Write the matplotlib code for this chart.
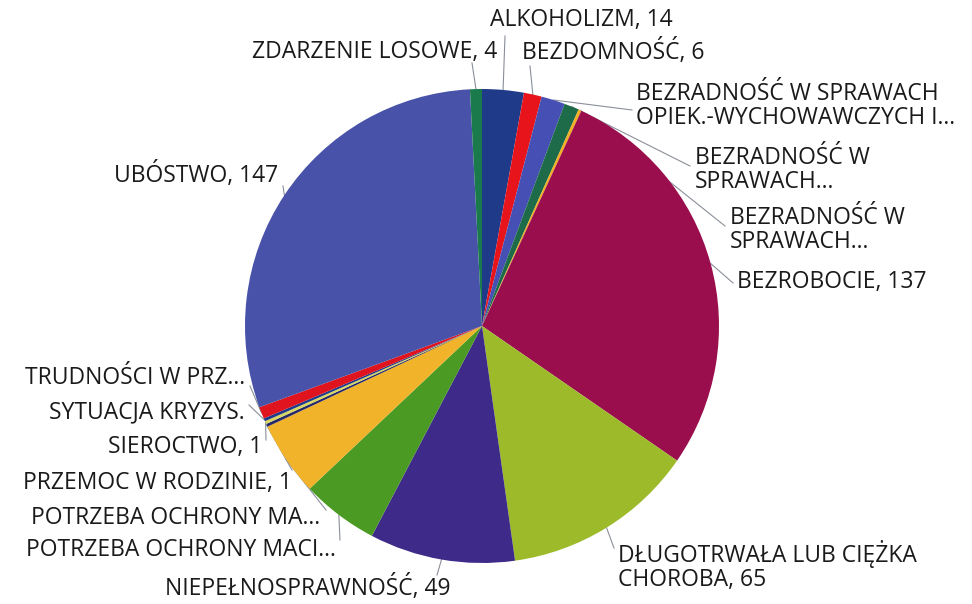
import matplotlib
matplotlib.use("Agg")
import matplotlib.pyplot as plt
import numpy as np

# ── data ────────────────────────────────────────────────────────────────────
categories = [
    "ALKOHOLIZM", "BEZDOMNOŚĆ",
    "BEZRADNOŚĆ W SPRAWACH OPIEK.-WYCHOWAWCZYCH I...",
    "BEZRADNOŚĆ W SPRAWACH... (2)", "BEZRADNOŚĆ W SPRAWACH... (3)",
    "BEZROBOCIE", "DŁUGOTRWAŁA LUB CIĘŻKA CHOROBA", "NIEPEŁNOSPRAWNOŚĆ",
    "POTRZEBA OCHRONY MACI...", "POTRZEBA OCHRONY MA...",
    "PRZEMOC W RODZINIE", "SIEROCTWO", "SYTUACJA KRYZYS.",
    "TRUDNOŚCI W PRZ...", "UBÓSTWO", "ZDARZENIE LOSOWE",
]
values = [14, 6, 8, 5, 1, 137, 65, 49, 26, 25, 1, 1, 1, 4, 147, 4]
labels = [
    "ALKOHOLIZM, 14", "BEZDOMNOŚĆ, 6",
    "BEZRADNOŚĆ W SPRAWACH\nOPIEK.-WYCHOWAWCZYCH I...",
    "BEZRADNOŚĆ W\nSPRAWACH...", "BEZRADNOŚĆ W\nSPRAWACH...",
    "BEZROBOCIE, 137", "DŁUGOTRWAŁA LUB CIĘŻKA\nCHOROBA, 65",
    "NIEPEŁNOSPRAWNOŚĆ, 49", "POTRZEBA OCHRONY MACI...",
    "POTRZEBA OCHRONY MA...", "PRZEMOC W RODZINIE, 1", "SIEROCTWO, 1",
    "SYTUACJA KRYZYS.", "TRUDNOŚCI W PRZ...", "UBÓSTWO, 147",
    "ZDARZENIE LOSOWE, 4",
]
colors = [
    "#203a8a", "#e8141c", "#4650b4", "#1d6b48", "#f0b020", "#9a0e4e",
    "#9cba2a", "#3e2a88", "#4a9a24", "#f0b32a", "#26286a", "#d8d860",
    "#1f3a8a", "#e0141e", "#4752a8", "#1a7a4c",
]

# label layout in image pixels (y down): text x, text y, align, leader anchor
label_pos = [
    (490, 20, "left", 505, 36), (522, 52, "left", 530, 66),
    (636, 106, "left", 632, 110), (695, 170, "left", 690, 166),
    (730, 230, "left", 725, 226), (737, 282, "left", 733, 283),
    (618, 566, "left", 614, 548), (165, 588, "left", 437, 575),
    (336, 550, "right", 340, 540), (320, 518, "right", 326, 510),
    (292, 483, "right", 292, 470), (262, 447, "right", 266, 440),
    (245, 412, "right", 249, 405), (245, 378, "right", 250, 386),
    (278, 175, "right", 283, 186), (497, 52, "right", 472, 63),
]

W, H = 972, 604
CX, CY, R = 482, 326, 237

fig = plt.figure(figsize=(9.72, 6.04), dpi=100)
ax = fig.add_axes([0, 0, 1, 1])

wedges, _ = ax.pie(values, colors=colors, startangle=90, counterclock=False,
                   center=(CX, H - CY), radius=R, frame=True,
                   wedgeprops=dict(linewidth=0))

for w, lab, (tx, ty, ha, lx, ly) in zip(wedges, labels, label_pos):
    mid = np.deg2rad((w.theta1 + w.theta2) / 2)
    ex, ey = CX + R * np.cos(mid), (H - CY) + R * np.sin(mid)
    ax.plot([ex, lx], [ey, H - ly], color="#8a8f99", lw=0.8, zorder=0.5)
    ax.text(tx, H - ty, lab, ha=ha, va="center", fontsize=16.5,
            family="Open Sans", color="#1a1a1a", linespacing=1.0)

ax.set_xlim(0, W); ax.set_ylim(0, H)
ax.set_aspect("equal")
ax.axis("off")
fig.savefig("out.png", dpi=100, facecolor="white")
